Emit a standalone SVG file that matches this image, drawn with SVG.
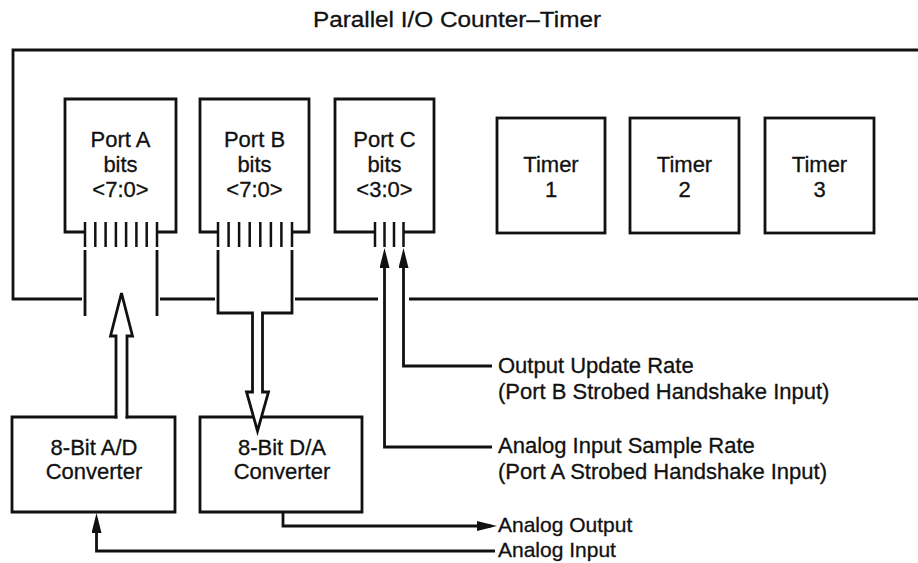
<svg xmlns="http://www.w3.org/2000/svg" width="918" height="563" viewBox="0 0 918 563">
<style>
  .ln{fill:none;stroke:#111;stroke-width:2.8;stroke-linejoin:miter}
  .sq{stroke-linecap:square}
  .pin{stroke:#111;stroke-width:2.5}
  text{font-family:"Liberation Sans",Arial,Helvetica,sans-serif;font-size:22px;fill:#111;stroke:#111;stroke-width:0.3}
  .c{text-anchor:middle}
  .sm{font-size:21px}
</style>
<defs>
  <marker id="ah" markerUnits="userSpaceOnUse" markerWidth="22" markerHeight="12" refX="14" refY="5" orient="auto">
    <path d="M0,0 L20,5 L0,10 Z" fill="#111"/>
  </marker>
</defs>
<rect width="918" height="563" fill="#fff"/>
<text class="c" x="457" y="27" textLength="288" lengthAdjust="spacingAndGlyphs">Parallel I/O Counter–Timer</text>

<g id="pio">
  <path class="ln" d="M82,299 H13 V50 H918"/>
  <path class="ln" d="M160,299 H215 M295,299 H378 M409,299 H918"/>
</g>

<g id="portA">
  <path class="ln" d="M85,232 H65 V99 H176 V232 H157"/>
  <path class="pin" d="M85,222 V247 M95.3,222 V247 M105.6,222 V247 M115.9,222 V247 M126.1,222 V247 M136.4,222 V247 M146.7,222 V247 M157,222 V247"/>
  <text class="c" x="120.5" y="147">Port A</text>
  <text class="c" x="120.5" y="172">bits</text>
  <text class="c" x="120.5" y="197">&lt;7:0&gt;</text>
</g>

<g id="portB">
  <path class="ln" d="M218,232 H200 V99 H309 V232 H292"/>
  <path class="pin" d="M218,222 V247 M228.6,222 V247 M239.1,222 V247 M249.7,222 V247 M260.3,222 V247 M270.9,222 V247 M281.4,222 V247 M292,222 V247"/>
  <text class="c" x="254.5" y="147">Port B</text>
  <text class="c" x="254.5" y="172">bits</text>
  <text class="c" x="254.5" y="197">&lt;7:0&gt;</text>
</g>

<g id="portC">
  <path class="ln" d="M375,232 H335 V99 H434 V232 H403.5"/>
  <path class="pin" d="M375,222 V247 M384.5,222 V247 M394,222 V247 M403.5,222 V247"/>
  <text class="c" x="384.5" y="147">Port C</text>
  <text class="c" x="384.5" y="172">bits</text>
  <text class="c" x="384.5" y="197">&lt;3:0&gt;</text>
</g>

<g id="timer1">
  <rect class="ln" x="497" y="118" width="108" height="115"/>
  <text class="c" x="551" y="172">Timer</text>
  <text class="c" x="551" y="197">1</text>
</g>
<g id="timer2">
  <rect class="ln" x="630" y="118" width="109" height="115"/>
  <text class="c" x="684.5" y="172">Timer</text>
  <text class="c" x="684.5" y="197">2</text>
</g>
<g id="timer3">
  <rect class="ln" x="765" y="118" width="109" height="115"/>
  <text class="c" x="819.5" y="172">Timer</text>
  <text class="c" x="819.5" y="197">3</text>
</g>

<g id="adc">
  <path class="ln sq" d="M116,417 H12 V512 H175 V417 H127"/>
  <text class="c" x="94" y="455">8-Bit A/D</text>
  <text class="c" x="94" y="479">Converter</text>
</g>

<g id="dac">
  <path class="ln" d="M253.5,417 H200 V512 H362 V417 H261.5"/>
  <text class="c" x="282" y="455">8-Bit D/A</text>
  <text class="c" x="282" y="479">Converter</text>
</g>

<g id="connectors">
  <path class="ln" d="M85,250 V316 M157,250 V316"/>
  <path class="ln sq" d="M116,417 V336 H110.5 L121.5,293 L132.5,336 H127 V417"/>
  <path class="ln" d="M218,250 V313 H252.5 V392 H246.5 L257.5,431 L268.5,392 H262.5 V313 H292 V250"/>
  <path class="ln" d="M492,366 H403.5 V254" marker-end="url(#ah)"/>
  <path class="ln" d="M492,447 H384.5 V254" marker-end="url(#ah)"/>
  <path class="ln" d="M283,512 V526 H491" marker-end="url(#ah)"/>
  <path class="ln" d="M495,551 H96.5 V519" marker-end="url(#ah)"/>
</g>

<g id="labels">
  <text x="498" y="373">Output Update Rate</text>
  <text x="498" y="399">(Port B Strobed Handshake Input)</text>
  <text x="498" y="453">Analog Input Sample Rate</text>
  <text x="498" y="479">(Port A Strobed Handshake Input)</text>
  <text class="sm" x="498" y="532">Analog Output</text>
  <text class="sm" x="498" y="557">Analog Input</text>
</g>
</svg>
